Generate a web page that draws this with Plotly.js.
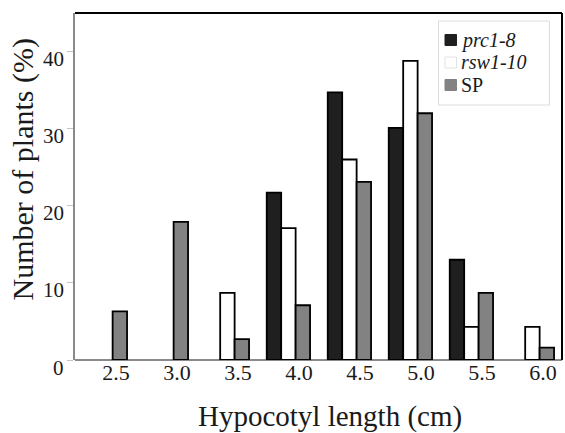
<!DOCTYPE html>
<html>
<head>
<meta charset="utf-8">
<script src="https://cdn.plot.ly/plotly-3.0.1.min.js"></script>
<style>
  html, body { margin: 0; padding: 0; background: #fff; }
  #chart { width: 565px; height: 433px; }
</style>
</head>
<body>
<div id="chart"></div>
<script>
// ---- data ----
const categories = ['2.5', '3.0', '3.5', '4.0', '4.5', '5.0', '5.5', '6.0'];
const prc1_8  = [0, 0, 0, 21.7, 34.7, 30.1, 13.0, 0];
const rsw1_10 = [0, 0, 8.7, 17.1, 26.0, 38.8, 4.3, 4.3];
const sp      = [6.3, 17.9, 2.7, 7.1, 23.1, 32.0, 8.7, 1.6];
const seriesNames = ['prc1-8', 'rsw1-10', 'SP'];
const yTickValues = [0, 10, 20, 30, 40];
const yTickLabels = ['0', '10', '20', '30', '40'];
const xTitle = 'Hypocotyl length (cm)';
const yTitle = 'Number of plants (%)';

// ---- styles ----
const xNums = categories.map(Number);
const seriesValues = [prc1_8, rsw1_10, sp];
const fills = ['#1f1f1f', '#ffffff', '#828282'];
const italic = [true, true, false];
const FONT = '"Liberation Serif", serif';
const TXT = '#1a1a1a';

const W = 565, H = 433;
const M = { l: 75, r: 3, t: 13, b: 73 };
const PW = W - M.l - M.r, PH = H - M.t - M.b;
const px2x = px => (px - M.l) / PW;
const py2y = py => (H - M.b - py) / PH;

// x axis: 122 px per 0.5 cm step, first group centre 30.4 px into the plot
const PX_PER_UNIT = 122;
const xr0 = xNums[0] - 30.4 / PX_PER_UNIT;
const xr1 = xr0 + PW / PX_PER_UNIT;
const LABEL_SHIFT = 10.5 / PX_PER_UNIT;   // tick labels sit a little right of group centres
const LABEL_RAISE = 3.5 / PH;             // and a little closer to the baseline

const traces = seriesValues.map((vals, i) => ({
  type: 'bar',
  name: seriesNames[i],
  x: xNums,
  y: vals,
  marker: { color: fills[i], line: { color: '#000', width: vals.map(v => v > 0 ? 1.8 : 0) } },
  showlegend: false,
  hoverinfo: 'x+y+name'
}));

const shapes = [
  // top and right frame lines
  { type: 'line', xref: 'paper', yref: 'paper', x0: 0, x1: 1, y0: 1, y1: 1, line: { color: '#000', width: 2 } },
  { type: 'line', xref: 'paper', yref: 'paper', x0: 1, x1: 1, y0: 0, y1: 1, line: { color: '#000', width: 2 } },
  // legend box
  { type: 'rect', xref: 'paper', yref: 'paper', x0: px2x(438.5), x1: px2x(549.5), y0: py2y(105), y1: py2y(21),
    line: { color: '#dcdcdc', width: 1 }, fillcolor: 'rgba(0,0,0,0)' }
];
const annotations = [];

// custom legend (swatches + labels)
const rowY = [40, 62.5, 85];
seriesNames.forEach((nm, i) => {
  const cy = rowY[i];
  shapes.push({ type: 'rect', xref: 'paper', yref: 'paper',
    x0: px2x(445), x1: px2x(456.5), y0: py2y(cy + 5.5), y1: py2y(cy - 5.5),
    fillcolor: fills[i], line: { color: i === 1 ? '#e2e2e2' : fills[i], width: 1 } });
  annotations.push({ xref: 'paper', yref: 'paper', x: px2x(460), y: py2y(cy),
    xanchor: 'left', yanchor: 'middle', showarrow: false, borderpad: 0,
    text: italic[i] ? '<i>' + nm + '</i>' : nm,
    font: { family: FONT, size: 20, color: TXT } });
});

// y tick labels (placed on the y scale, nudged below their ticks like the reference)
yTickValues.forEach((v, i) => {
  annotations.push({ xref: 'paper', yref: 'y', x: 0, y: v, xanchor: 'right', yanchor: 'middle',
    xshift: -10, yshift: -7.5, showarrow: false, borderpad: 0, text: yTickLabels[i],
    font: { family: FONT, size: 21, color: TXT } });
});

// axis titles
annotations.push({ xref: 'paper', yref: 'paper', x: px2x(330), y: py2y(416.5),
  xanchor: 'center', yanchor: 'middle', showarrow: false, borderpad: 0, text: xTitle,
  font: { family: FONT, size: 29, color: TXT } });
annotations.push({ xref: 'paper', yref: 'paper', x: px2x(22.5), y: py2y(170),
  xanchor: 'center', yanchor: 'middle', showarrow: false, borderpad: 0, text: yTitle, textangle: -90,
  font: { family: FONT, size: 30, color: TXT } });

const layout = {
  width: W, height: H,
  margin: { l: M.l, r: M.r, t: M.t, b: M.b, pad: 0 },
  paper_bgcolor: '#fff', plot_bgcolor: '#fff',
  barmode: 'group', bargap: 0.29, bargroupgap: 0,
  showlegend: false,
  font: { family: FONT, color: TXT },
  xaxis: {
    type: 'linear', range: [xr0, xr1],
    anchor: 'free', position: LABEL_RAISE,
    tickmode: 'array', tickvals: xNums.map(v => v + LABEL_SHIFT), ticktext: categories,
    showline: false, ticks: '', showgrid: false, zeroline: false,
    tickfont: { family: FONT, size: 22, color: TXT },
    fixedrange: true
  },
  yaxis: {
    range: [0, 45], tickmode: 'array', tickvals: yTickValues,
    showticklabels: false,
    ticks: 'outside', ticklen: 6, tickwidth: 1, tickcolor: '#c4c4c4',
    showline: true, linecolor: '#8a8a8a', linewidth: 2,
    showgrid: false,
    zeroline: true, zerolinecolor: '#8a8a8a', zerolinewidth: 2,
    fixedrange: true
  },
  shapes: shapes,
  annotations: annotations
};

Plotly.newPlot('chart', traces, layout, { displayModeBar: false, staticPlot: true });
</script>
</body>
</html>
